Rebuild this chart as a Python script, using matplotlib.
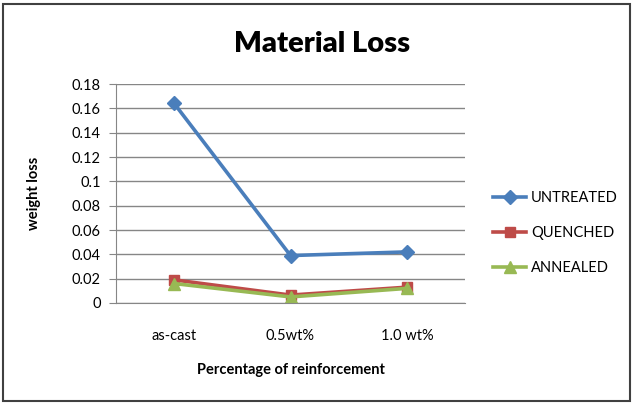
import numpy as np
import matplotlib
matplotlib.use('Agg')
import matplotlib.pyplot as plt
from matplotlib.patches import Rectangle

# ── 数据 ──
categories = ['as-cast', '0.5wt%', '1.0 wt%']
untreated = [0.164, 0.039, 0.042]
quenched = [0.019, 0.0065, 0.013]
annealed = [0.016, 0.005, 0.012]
y_ticks = [0, 0.02, 0.04, 0.06, 0.08, 0.1, 0.12, 0.14, 0.16, 0.18]
y_tick_labels = ['0', '0.02', '0.04', '0.06', '0.08', '0.1', '0.12', '0.14', '0.16', '0.18']

plt.rcParams['font.family'] = ['Lato', 'DejaVu Sans']

fig = plt.figure(figsize=(6.34, 4.04), dpi=100)
W, H = 634, 404
ax = fig.add_axes([116 / W, 1 - 303 / H, (465 - 116) / W, (303 - 84) / H])

x = np.arange(len(categories))
ax.plot(x, untreated, color='#4A7EBB', lw=2.6, marker='D', ms=7, label='UNTREATED')
ax.plot(x, quenched, color='#BE4B48', lw=2.6, marker='s', ms=7, label='QUENCHED')
ax.plot(x, annealed, color='#98B954', lw=2.6, marker='^', ms=8, label='ANNEALED')

ax.set_xlim(-0.5, 2.5)
ax.set_ylim(0, 0.18)
ax.set_yticks(y_ticks)
ax.set_yticklabels(y_tick_labels, fontsize=10.5)
ax.set_xticks(x)
ax.set_xticklabels(categories, fontsize=10.5)
ax.tick_params(axis='x', length=0, pad=19)
ax.tick_params(axis='y', length=5, color='#868686', pad=6)
ax.yaxis.grid(True, color='#868686', lw=1)
ax.set_axisbelow(True)
for s in ['top', 'right']:
    ax.spines[s].set_visible(False)
ax.spines['left'].set_color('#868686')
ax.spines['bottom'].set_color('#868686')

ax.set_xlabel('Percentage of reinforcement', fontsize=10.5, fontweight='bold', labelpad=14)
ax.set_ylabel('weight loss', fontsize=10.5, fontweight='bold', labelpad=22)
fig.text(322 / W, 1 - 44 / H, 'Material Loss', fontsize=21, fontweight='heavy',
         ha='center', va='center')

ax.legend(loc='center left', bbox_to_anchor=(1.08, 0.32), frameon=False,
          borderaxespad=0, borderpad=0,
          fontsize=10.5, handlelength=2.3, labelspacing=1.45, handletextpad=0.3)

# 外框
fig.patches.append(Rectangle((3 / W, 3 / H), 627 / W, 397 / H, transform=fig.transFigure,
                             fill=False, edgecolor='#404040', lw=1.5))

plt.savefig('out.png', dpi=100)
plt.close()
